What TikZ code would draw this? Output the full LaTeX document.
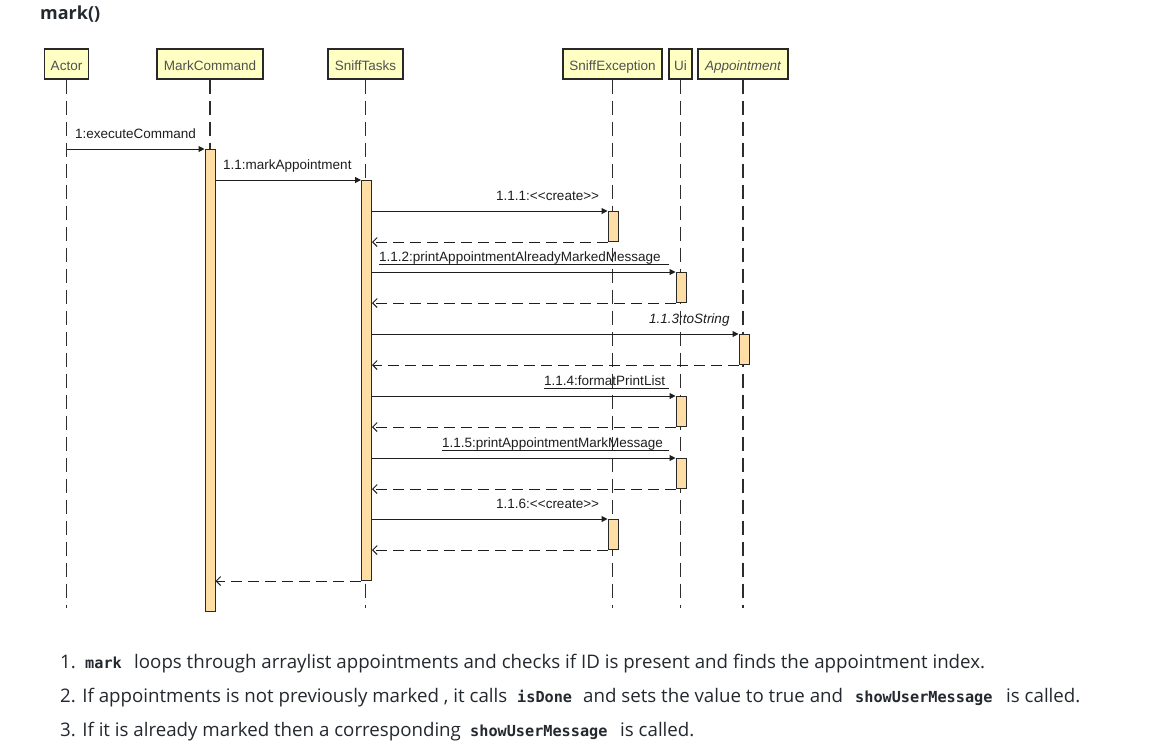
\documentclass[tikz,border=0pt]{standalone}
\usepackage{fontspec}
\setmainfont{Liberation Sans}
\newfontfamily\uifont{Open Sans}
\newfontfamily\codefont{DejaVu Sans Mono}
\usetikzlibrary{arrows.meta}
\definecolor{objfill}{RGB}{255,255,196}
\definecolor{objline}{RGB}{40,40,40}
\definecolor{objtext}{RGB}{80,80,80}
\definecolor{actfill}{RGB}{255,222,165}
\definecolor{lifecol}{RGB}{45,45,45}
\definecolor{msgcol}{RGB}{30,30,30}
\definecolor{bodytext}{RGB}{36,41,47}
\newcommand\cde[1]{{\codefont\bfseries\fontsize{15.2}{18}\selectfont #1}}
\tikzset{
  obj/.style={draw=objline, fill=objfill, line width=1.2pt, inner sep=0pt,
    minimum height=30pt, text height=12pt, text depth=0pt, text=objtext, font=\fontsize{13.5}{16}\selectfont},
  lifeline/.style={draw=lifecol, line width=1.2pt, dash pattern=on 14pt off 7pt},
  actbox/.style={draw=objline, fill=actfill, line width=1pt, minimum width=10pt,
    inner sep=0pt, anchor=north},
  msg/.style={draw=msgcol, line width=1pt, -{Triangle[length=6pt,width=6pt]}},
  ret/.style={draw=msgcol, line width=1pt, dash pattern=on 11pt off 6pt,
    -{Straight Barb[length=4.5pt,width=9pt]}},
  lbl/.style={anchor=base west, inner sep=0pt, text=msgcol, font=\fontsize{13.5}{16}\selectfont},
  uline/.style={draw=msgcol, line width=0.8pt},
  body/.style={anchor=base west, inner sep=0pt, text=bodytext, font=\uifont\fontsize{18.7}{22}\selectfont}
}
\begin{document}
\begin{tikzpicture}[x=1pt,y=-1pt]
\useasboundingbox[fill=white] (0,0) rectangle (1164,753);
% title
\node[anchor=base west, inner sep=0pt, text=bodytext, font=\uifont\bfseries\fontsize{18}{22}\selectfont] (title) at (40,19) {mark()};
% objects
\node[obj, minimum width=44pt] (actor) at (66.5,64) {Actor};
\node[obj, minimum width=106pt] (mc) at (210,64) {MarkCommand};
\node[obj, minimum width=75pt] (st) at (365.5,64) {SniffTasks};
\node[obj, minimum width=99pt] (se) at (612.5,64) {SniffException};
\node[obj, minimum width=23pt] (ui) at (680.5,64) {Ui};
\node[obj, minimum width=90pt] (ap) at (743,64) {\itshape Appointment};
% lifeline ends
\coordinate (actorEnd) at (66.5,608);
\coordinate (mcEnd) at (210,608);
\coordinate (stEnd) at (365.5,608);
\coordinate (seEnd) at (612.5,608);
\coordinate (uiEnd) at (680.5,608);
\coordinate (apEnd) at (743,608);
\draw[lifeline] (actor.south) -- (actorEnd);
\draw[lifeline] (mc.south) -- (mcEnd);
\draw[lifeline] (st.south) -- (stEnd);
\draw[lifeline] (se.south) -- (seEnd);
\draw[lifeline] (ui.south) -- (uiEnd);
\draw[lifeline] (ap.south) -- (apEnd);
% activations
\node[actbox, minimum height=462pt] (mcA) at (210,149) {};
\node[actbox, minimum height=400pt] (stA) at (366.5,180) {};
\node[actbox, minimum height=30pt] (se1) at (613,211) {};
\node[actbox, minimum height=30pt] (ui1) at (681,272) {};
\node[actbox, minimum height=30pt] (ap1) at (744,334) {};
\node[actbox, minimum height=30pt] (ui2) at (681,396) {};
\node[actbox, minimum height=30pt] (ui3) at (681,458) {};
\node[actbox, minimum height=30pt] (se2) at (613,519) {};
% messages
\draw[msg] (actor |- mcA.north west) -- (mcA.north west);
\node[lbl] (l1) at (75,138) {1:executeCommand};
\draw[msg] (mcA.east |- stA.north) -- (stA.north west);
\node[lbl] (l2) at (223,169) {1.1:markAppointment};
\draw[msg] (stA.east |- se1.north) -- (se1.north west);
\node[lbl] (l3) at (496,200) {1.1.1:{<}{<}create{>}{>}};
\draw[ret] (se1.south west) -- (stA.east |- se1.south);
\draw[msg] (stA.east |- ui1.north) -- (ui1.north west);
\node[lbl] (l4) at (379,261) {1.1.2:printAppointmentAlreadyMarkedMessage};
\coordinate (u4e) at (669,264);
\draw[uline] (l4.west |- u4e) -- (u4e);
\draw[ret] (ui1.south west) -- (stA.east |- ui1.south);
\draw[msg] (stA.east |- ap1.north) -- (ap1.north west);
\node[lbl, font=\itshape\fontsize{13.5}{16}\selectfont] (l5) at (649,323) {1.1.3:toString};
\draw[ret] (ap1.south west) -- (stA.east |- ap1.south);
\draw[msg] (stA.east |- ui2.north) -- (ui2.north west);
\node[lbl] (l6) at (544,385) {1.1.4:formatPrintList};
\coordinate (u6e) at (669,388);
\draw[uline] (l6.west |- u6e) -- (u6e);
\draw[ret] (ui2.south west) -- (stA.east |- ui2.south);
\draw[msg] (stA.east |- ui3.north) -- (ui3.north west);
\node[lbl] (l7) at (442,447) {1.1.5:printAppointmentMarkMessage};
\coordinate (u7e) at (669,450);
\draw[uline] (l7.west |- u7e) -- (u7e);
\draw[ret] (ui3.south west) -- (stA.east |- ui3.south);
\draw[msg] (stA.east |- se2.north) -- (se2.north west);
\node[lbl] (l8) at (496,508) {1.1.6:{<}{<}create{>}{>}};
\draw[ret] (se2.south west) -- (stA.east |- se2.south);
\draw[ret] (stA.south west) -- (mcA.east |- stA.south);
% body text
\node[body] (b1a) at (60,668) {1.};
\node[body] (b1b) at (85,668) {\cde{mark}};
\node[body] (b1c) at (134,668) {loops through arraylist appointments and checks if ID is present and finds the appointment index.};
\node[body] (b2a) at (60,702) {2. If appointments is not previously marked , it calls};
\node[body] (b2b) at (517,702) {\cde{isDone}};
\node[body] (b2c) at (583,702) {and sets the value to true and};
\node[body] (b2d) at (855,702) {\cde{showUserMessage}};
\node[body] (b2e) at (1006,702) {is called.};
\node[body] (b3a) at (60,736) {3. If it is already marked then a corresponding};
\node[body] (b3b) at (470,736) {\cde{showUserMessage}};
\node[body] (b3c) at (620,736) {is called.};
\end{tikzpicture}
\end{document}
